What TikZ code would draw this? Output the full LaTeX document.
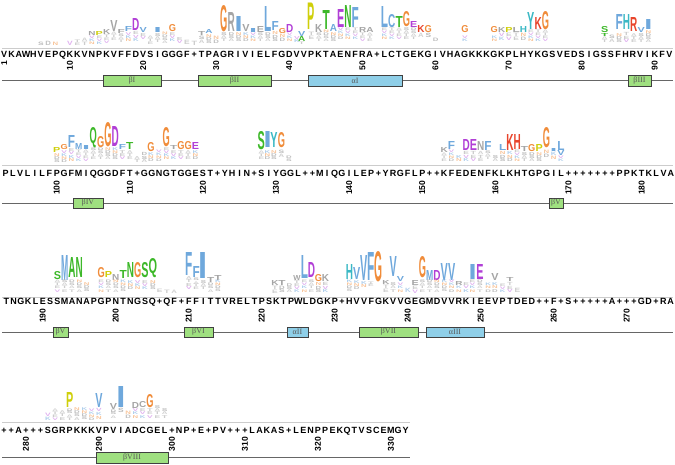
\documentclass[tikz,border=0pt]{standalone}
\usepackage{fontspec}
\usepackage{graphicx}
\setsansfont{Liberation Sans}
\newfontfamily\grk{Liberation Serif}
\definecolor{cB}{HTML}{6FA8DC}
\definecolor{cG}{HTML}{F08C3A}
\definecolor{cD}{HTML}{B13FD6}
\definecolor{cN}{HTML}{3DB829}
\definecolor{cP}{HTML}{CFCF0A}
\definecolor{cH}{HTML}{3BB8C4}
\definecolor{cK}{HTML}{E8452C}
\definecolor{cX}{HTML}{A5A5A5}
\definecolor{boxG}{HTML}{9FE080}
\definecolor{boxB}{HTML}{8FCFE8}
\newcounter{lgc}
\tikzset{
 lgl/.style={anchor=south,inner sep=0pt,outer sep=0pt,font=\sffamily\bfseries},
 seqc/.style={anchor=base,inner sep=0pt,font=\sffamily\bfseries\fontsize{9}{10}\selectfont},
 numl/.style={rotate=90,anchor=east,inner sep=0pt,font=\sffamily\bfseries\fontsize{8.5}{9}\selectfont},
 mainln/.style={draw=black!60,line width=0.9pt},
 baseln/.style={draw=black!20,line width=0.4pt},
 sbox/.style={draw=black!75,line width=0.8pt,fill=boxG,inner sep=0pt,font=\grk\fontsize{8}{8}\selectfont,text=black!65},
 hbox/.style={draw=black!75,line width=0.8pt,fill=boxB,inner sep=0pt,font=\grk\fontsize{8}{8}\selectfont,text=black!65}
}
\newcommand\lgx[6][7.2]{%
 \pgfmathsetmacro\myhh{#3-#4}%
 \stepcounter{lgc}%
 \node[lgl,text=#5] (g\thelgc) at (#2,#3) {\resizebox{#1pt}{\myhh pt}{#6}};}
\newcommand\clt[3]{%
 \pgfmathtruncatemacro\mycn{max(1,round((#3-#2)/3.4))}%
 \pgfmathsetmacro\mych{(#3-#2)/\mycn}%
 \foreach \k in {1,...,\mycn}{%
  \pgfmathsetmacro\myyb{#3-(\k-1)*\mych}%
  \pgfmathtruncatemacro\myli{mod(\k*3+round(#1*7),8)}%
  \pgfmathsetmacro\myhh{\mych*0.85}%
  \ifcase\myli\def\mycc{gray!40}\or\def\mycc{gray!55}\or\def\mycc{cB!55}\or\def\mycc{gray!40}\or\def\mycc{gray!50}\or\def\mycc{cD!40}\or\def\mycc{gray!35}\or\def\mycc{cG!50}\fi
  \stepcounter{lgc}%
  \node[lgl,text=\mycc] (g\thelgc) at (#1,\myyb) {\resizebox{5.6pt}{\myhh pt}{\ifcase\myli E\or S\or K\or T\or D\or V\or A\or N\fi}};%
 }}
\newcommand\sbx[7]{\node[#6,minimum width={(#3-#2)*1pt},minimum height={(#5-#4)*1pt}] (#1) at ({(#2+#3)/2},{(#4+#5)/2}) {#7};}
\begin{document}
\begin{tikzpicture}[x=1pt,y=-1pt]
\useasboundingbox (0,0) rectangle (675,465);
% ---------- baselines of logos
\coordinate (t1a) at (2,48.5); \coordinate (t1b) at (673,48.5);
\coordinate (t2a) at (2,165.5); \coordinate (t2b) at (673,165.5);
\coordinate (t3a) at (2,297.5); \coordinate (t3b) at (673,297.5);
\coordinate (t4a) at (2,422.5); \coordinate (t4b) at (410,422.5);
\foreach \r in {1,2,3,4}{\draw[baseln] (t\r a) -- (t\r b);}
% ---------- sequences
\foreach \c [count=\i from 0] in {V,K,A,W,H,V,E,P,Q,K,K,V,N,P,K,V,F,F,D,V,S,I,G,G,G,F,+,T,P,A,G,R,I,V,I,E,L,F,G,D,V,V,P,K,T,A,E,N,F,R,A,+,L,C,T,G,E,K,G,I,V,H,A,G,K,K,K,G,K,P,L,H,Y,K,G,S,V,E,D,S,I,G,S,S,F,H,R,V,I,K,F,V}
 {\node[seqc] (sa\i) at (4.2+\i*7.31,57.5) {\c};}
\foreach \c [count=\i from 0] in {P,L,V,L,I,L,F,P,G,F,M,I,Q,G,G,D,F,T,+,G,G,N,G,T,G,G,E,S,T,+,Y,H,I,N,+,S,I,Y,G,G,L,+,+,M,I,Q,G,I,L,E,P,+,Y,R,G,F,L,P,+,+,K,F,E,D,E,N,F,K,L,K,H,T,G,P,G,I,L,+,+,+,+,+,+,+,P,P,K,T,K,L,V,A}
 {\node[seqc] (sb\i) at (5.6+\i*7.31,176.8) {\c};}
\foreach \c [count=\i from 0] in {T,N,G,K,L,E,S,S,M,A,N,A,P,G,P,N,T,N,G,S,Q,+,Q,F,+,F,F,I,T,T,V,R,E,L,T,P,S,K,T,P,W,L,D,G,K,P,+,H,V,V,F,G,K,V,V,G,E,G,M,D,V,V,R,K,I,E,E,V,P,T,D,E,D,+,+,F,+,S,+,+,+,+,+,A,+,+,+,G,D,+,R,A}
 {\node[seqc] (sc\i) at (6.3+\i*7.3,305) {\c};}
\foreach \c [count=\i from 0] in {+,+,A,+,+,+,S,G,R,P,K,K,K,V,P,V,I,A,D,C,G,E,L,+,N,P,+,E,+,P,V,+,+,+,L,A,K,A,S,+,L,E,N,P,P,E,K,Q,T,V,S,C,E,M,G,Y}
 {\node[seqc] (sd\i) at (4+\i*7.3,433.3) {\c};}
% ---------- position numbers
\node[numl] (n1) at (4.2,61) {1};
\foreach \n in {10,20,...,90}{\node[numl] (n\n) at ({4.2+(\n-1)*7.31},61) {\n};}
\foreach \n in {100,110,...,180}{\node[numl] (n\n) at ({5.6+(\n-93)*7.31},180.5) {\n};}
\foreach \n in {190,200,...,270}{\node[numl] (n\n) at ({6.3+(\n-185)*7.3},308.5) {\n};}
\foreach \n in {280,290,...,330}{\node[numl] (n\n) at ({4+(\n-277)*7.3},436.8) {\n};}
% ---------- secondary structure lines
\coordinate (l1a) at (2,80.5); \coordinate (l1b) at (673,80.5);
\coordinate (l2a) at (2,203); \coordinate (l2b) at (673,203);
\coordinate (l3a) at (2,332); \coordinate (l3b) at (673,332);
\coordinate (l4a) at (2,457.5); \coordinate (l4b) at (410,457.5);
\foreach \r in {1,2,3,4}{\draw[mainln] (l\r a) -- (l\r b);}
\sbx{b1}{103}{161}{75}{86}{sbox}{βI}
\sbx{b2}{198}{271}{75}{86}{sbox}{βII}
\sbx{a1}{308}{402}{75}{86}{hbox}{αI}
\sbx{b3}{628}{651}{75}{86}{sbox}{βIII}
\sbx{b4}{73}{103}{198}{208}{sbox}{βIV}
\sbx{b5}{549}{563}{198}{208}{sbox}{βV}
\sbx{b5b}{53}{68}{327}{337}{sbox}{βV}
\sbx{b6}{184}{213}{327}{337}{sbox}{βVI}
\sbx{a2}{287}{308}{327}{337}{hbox}{αII}
\sbx{b7}{359}{418}{327}{337}{sbox}{βVII}
\sbx{a3}{426}{484}{327}{337}{hbox}{αIII}
\sbx{b8}{96}{168}{452}{463}{sbox}{βVIII}
% ---------- logo row 1
\lgx{92.0}{36}{32}{cX}{N}
\lgx{99.3}{36}{32}{cP}{P}
\lgx{106.6}{35}{30}{cX}{K}
\lgx{113.9}{32}{21}{cX}{V}
\lgx{121.2}{34}{30}{cX}{F}
\lgx{128.5}{32}{27}{cB}{F}
\lgx{135.8}{31}{19}{cD}{D}
\lgx{143.1}{33}{28}{cB}{V}
\lgx[8]{157.7}{33}{28}{cB}{I}
\lgx{172.4}{32}{25}{cG}{G}
\lgx{201.6}{36}{32}{cX}{T}
\lgx{208.9}{34}{30}{cB}{A}
\lgx{224.0}{32}{6}{cG}{G}
\lgx{231.3}{32}{13}{cX}{R}
\lgx[8]{238.6}{32}{17}{cB}{I}
\lgx{245.9}{32}{25}{cX}{V}
\lgx[8]{253.2}{33}{29}{cB}{I}
\lgx{260.5}{33}{27}{cX}{E}
\lgx{267.8}{32}{7}{cB}{L}
\lgx{275.1}{31}{22}{cB}{F}
\lgx{282.4}{34}{29}{cG}{G}
\lgx{289.7}{33}{25}{cD}{D}
\lgx{301.7}{37}{32}{cB}{V}
\lgx{301.7}{42}{37}{cN}{A}
\lgx{311.5}{30}{3.5}{cP}{P}
\lgx{318.8}{33}{25}{cX}{K}
\lgx{326.1}{30}{11}{cN}{T}
\lgx{333.4}{32}{25}{cB}{A}
\lgx{340.7}{28}{10}{cD}{E}
\lgx{348.0}{28}{6}{cN}{N}
\lgx{355.3}{28}{8}{cB}{F}
\lgx{362.6}{33}{28}{cX}{R}
\lgx{369.9}{33}{28}{cX}{A}
\lgx{384.5}{28}{7}{cB}{L}
\lgx{391.8}{28}{15}{cB}{C}
\lgx{399.1}{28}{17}{cN}{T}
\lgx{406.4}{27}{12}{cG}{G}
\lgx{413.7}{28}{22}{cD}{E}
\lgx{421.0}{33}{26}{cK}{K}
\lgx{428.3}{33}{26}{cG}{G}
\lgx{465.0}{33}{26}{cG}{G}
\lgx{494.3}{33}{27}{cG}{G}
\lgx{501.6}{33}{28}{cX}{K}
\lgx{508.9}{33}{28}{cP}{P}
\lgx{516.2}{33}{28}{cX}{L}
\lgx{523.5}{33}{27}{cH}{H}
\lgx{530.8}{30}{13}{cH}{Y}
\lgx{538.1}{30}{18}{cK}{K}
\lgx{545.4}{30}{12}{cG}{G}
\lgx{604.6}{33}{27}{cN}{S}
\lgx{604.6}{36.5}{33.5}{cN}{T}
\lgx{619.2}{30}{15}{cB}{F}
\lgx{626.5}{30}{15}{cH}{H}
\lgx{633.8}{32}{18}{cK}{R}
\lgx{641.1}{33}{28}{cB}{V}
\lgx[8]{648.4}{30}{20}{cB}{I}
\clt{40.8}{42}{46}
\clt{48.1}{41}{46}
\clt{55.4}{42}{46}
\clt{70.0}{41}{46}
\clt{77.3}{40}{46}
\clt{84.6}{38}{46}
\clt{92.0}{36}{45}
\clt{99.3}{36}{45}
\clt{106.6}{35}{44}
\clt{113.9}{32}{41}
\clt{121.2}{34}{43}
\clt{128.5}{32}{42}
\clt{135.8}{31}{42}
\clt{143.1}{33}{40}
\clt{150.4}{36}{45}
\clt{157.7}{33}{43}
\clt{165.0}{32}{44}
\clt{172.4}{32}{42}
\clt{179.7}{37}{44}
\clt{187.0}{40}{45}
\clt{194.3}{41}{46}
\clt{201.6}{36}{44}
\clt{208.9}{34}{44}
\clt{216.2}{36}{44}
\clt{224.0}{32}{42}
\clt{231.3}{32}{42}
\clt{238.6}{32}{42}
\clt{245.9}{32}{42}
\clt{253.2}{33}{42}
\clt{260.5}{33}{42}
\clt{267.8}{32}{42}
\clt{275.1}{31}{42}
\clt{282.4}{34}{42}
\clt{289.7}{33}{42}
\clt{297.0}{36}{43}
\clt{301.7}{42}{45}
\clt{311.5}{32}{40}
\clt{318.8}{33}{42}
\clt{326.1}{30}{42}
\clt{333.4}{32}{42}
\clt{340.7}{28}{40}
\clt{348.0}{28}{40}
\clt{355.3}{28}{40}
\clt{362.6}{33}{42}
\clt{369.9}{33}{42}
\clt{384.5}{28}{40}
\clt{391.8}{28}{40}
\clt{399.1}{28}{40}
\clt{406.4}{27}{40}
\clt{413.7}{28}{40}
\clt{421.0}{33}{38}
\clt{428.3}{33}{38}
\clt{435.6}{38}{42}
\clt{465.0}{36}{42}
\clt{494.3}{36}{42}
\clt{501.6}{33}{41}
\clt{508.9}{33}{41}
\clt{516.2}{33}{41}
\clt{523.5}{33}{41}
\clt{530.8}{30}{42}
\clt{538.1}{30}{42}
\clt{545.4}{30}{42}
\clt{604.6}{36.5}{43}
\clt{611.9}{35}{43}
\clt{619.2}{33}{43}
\clt{626.5}{32}{43}
\clt{633.8}{33}{43}
\clt{641.1}{33}{43}
\clt{648.4}{30}{43}
% ---------- logo row 2
\lgx{56.8}{153}{148}{cP}{P}
\lgx{64.1}{150}{145}{cG}{G}
\lgx{71.4}{148}{136}{cB}{F}
\lgx{78.7}{150}{144}{cB}{M}
\lgx[8]{86.0}{150}{146}{cB}{I}
\lgx{93.3}{148}{132}{cN}{Q}
\lgx{100.6}{148}{137}{cG}{G}
\lgx{107.9}{147}{123}{cG}{G}
\lgx{115.2}{147}{127}{cD}{D}
\lgx{122.5}{150}{145}{cB}{F}
\lgx{129.8}{150}{143}{cN}{T}
\lgx{151.0}{152}{143}{cG}{G}
\lgx{166.3}{147}{128}{cG}{G}
\lgx{173.6}{150}{146}{cX}{T}
\lgx{180.9}{150}{142}{cG}{G}
\lgx{188.2}{150}{142}{cG}{G}
\lgx{195.5}{150}{143}{cD}{E}
\lgx{261.3}{150}{132}{cN}{S}
\lgx[8]{267.5}{148}{132}{cB}{I}
\lgx{274.0}{148}{133}{cH}{Y}
\lgx{281.5}{148}{133}{cG}{G}
\lgx{444.2}{153}{148}{cX}{K}
\lgx{451.5}{150}{142}{cB}{F}
\lgx{466.1}{151}{140}{cD}{D}
\lgx{473.4}{151}{140}{cD}{E}
\lgx{480.7}{151}{142}{cX}{N}
\lgx{488.0}{151}{142}{cB}{F}
\lgx{502.6}{151}{145}{cB}{L}
\lgx{509.9}{151}{135}{cK}{K}
\lgx{517.2}{150}{135}{cK}{H}
\lgx{524.5}{152}{147}{cX}{T}
\lgx{531.8}{152}{145}{cG}{G}
\lgx{539.1}{152}{145}{cP}{P}
\lgx{546.4}{148}{128}{cG}{G}
\lgx[7]{553.7}{152}{149}{cB}{I}
\lgx{561.0}{151}{142}{cB}{L}
\lgx{561.0}{156}{151}{cB}{V}
\clt{56.8}{153}{163}
\clt{64.1}{150}{163}
\clt{71.4}{148}{162}
\clt{78.7}{150}{162}
\clt{86.0}{150}{162}
\clt{93.3}{148}{160}
\clt{100.6}{148}{160}
\clt{107.9}{147}{160}
\clt{115.2}{147}{160}
\clt{122.5}{150}{160}
\clt{129.8}{150}{160}
\clt{137.1}{156}{163}
\clt{144.4}{152}{163}
\clt{151.0}{152}{162}
\clt{159.0}{150}{162}
\clt{166.3}{147}{160}
\clt{173.6}{150}{160}
\clt{180.9}{150}{160}
\clt{188.2}{150}{160}
\clt{195.5}{150}{160}
\clt{261.3}{151}{160}
\clt{267.5}{150}{160}
\clt{274.0}{150}{160}
\clt{281.5}{150}{158}
\clt{288.8}{156}{162}
\clt{444.2}{153}{162}
\clt{451.5}{150}{162}
\clt{458.8}{155}{162}
\clt{466.1}{151}{162}
\clt{473.4}{151}{162}
\clt{480.7}{151}{162}
\clt{488.0}{151}{160}
\clt{495.3}{155}{162}
\clt{502.6}{151}{162}
\clt{509.9}{151}{162}
\clt{517.2}{150}{162}
\clt{524.5}{152}{162}
\clt{531.8}{152}{162}
\clt{539.1}{152}{162}
\clt{546.4}{150}{158}
\clt{553.7}{152}{160}
\clt{561.0}{156}{162}
% ---------- logo row 3
\lgx{57.4}{280}{272}{cN}{S}
\lgx{64.7}{280}{255}{cB}{M}
\lgx{72.0}{278}{258}{cN}{A}
\lgx{79.3}{278}{258}{cN}{N}
\lgx{101.2}{278}{268}{cG}{G}
\lgx{108.5}{278}{272}{cP}{P}
\lgx{115.8}{280}{274}{cX}{N}
\lgx{123.1}{278}{270}{cN}{T}
\lgx{130.4}{278}{263}{cN}{N}
\lgx{137.7}{278}{263}{cG}{G}
\lgx{145.0}{278}{263}{cN}{S}
\lgx[8.5]{152.8}{278}{263}{cN}{Q}
\lgx{188.8}{275}{252}{cB}{F}
\lgx{196.1}{278}{267}{cB}{F}
\lgx[9]{203.4}{278}{252}{cB}{I}
\lgx{210.7}{283}{278}{cX}{T}
\lgx{218.0}{280}{275}{cX}{T}
\lgx{275.0}{285}{280}{cX}{K}
\lgx{282.0}{285}{280}{cX}{T}
\lgx{297.0}{280}{275}{cX}{W}
\lgx{304.5}{278}{255}{cB}{L}
\lgx{311.5}{278}{263}{cD}{D}
\lgx{318.5}{282}{275}{cG}{G}
\lgx{325.5}{282}{275}{cX}{K}
\lgx{349.4}{280}{265}{cH}{H}
\lgx{356.7}{280}{268}{cB}{V}
\lgx{364.0}{280}{255}{cB}{V}
\lgx{371.0}{280}{252}{cB}{F}
\lgx[8]{378.6}{282}{252}{cG}{G}
\lgx{385.9}{284}{280}{cX}{K}
\lgx{393.2}{277}{257}{cB}{V}
\lgx{400.5}{282}{277}{cB}{V}
\lgx{415.1}{285}{280}{cX}{E}
\lgx{422.4}{278}{257}{cG}{G}
\lgx{429.7}{280}{270}{cB}{M}
\lgx{437.0}{280}{270}{cD}{D}
\lgx{444.3}{280}{263}{cB}{V}
\lgx{451.6}{280}{263}{cB}{V}
\lgx{458.9}{286}{282}{cX}{R}
\lgx[8]{472.5}{280}{265}{cB}{I}
\lgx{480.0}{280}{265}{cD}{E}
\lgx{495.0}{280}{273}{cX}{V}
\lgx{510.0}{282}{278}{cX}{T}
\clt{57.4}{280}{292}
\clt{64.7}{280}{292}
\clt{72.0}{280}{292}
\clt{79.3}{280}{292}
\clt{86.6}{282}{292}
\clt{101.2}{280}{292}
\clt{108.5}{280}{292}
\clt{115.8}{280}{292}
\clt{123.1}{280}{292}
\clt{130.4}{280}{290}
\clt{137.7}{280}{290}
\clt{145.0}{280}{290}
\clt{152.8}{280}{290}
\clt{159.6}{288}{292}
\clt{166.9}{289}{293}
\clt{174.2}{289}{293}
\clt{188.8}{276}{290}
\clt{196.1}{278}{290}
\clt{203.4}{280}{290}
\clt{210.7}{283}{292}
\clt{218.0}{280}{292}
\clt{275.0}{285}{293}
\clt{282.0}{285}{293}
\clt{289.5}{283}{293}
\clt{297.0}{280}{293}
\clt{304.5}{280}{292}
\clt{311.5}{280}{292}
\clt{318.5}{282}{293}
\clt{325.5}{282}{293}
\clt{349.4}{280}{292}
\clt{356.7}{280}{290}
\clt{364.0}{281}{288}
\clt{371.0}{281}{287}
\clt{385.9}{284}{292}
\clt{393.2}{282}{292}
\clt{400.5}{283}{292}
\clt{407.8}{288}{293}
\clt{415.1}{285}{293}
\clt{422.4}{280}{292}
\clt{429.7}{280}{292}
\clt{437.0}{280}{292}
\clt{444.3}{280}{292}
\clt{451.6}{280}{292}
\clt{458.9}{286}{292}
\clt{466.2}{282}{292}
\clt{472.5}{280}{292}
\clt{480.0}{280}{292}
\clt{488.1}{283}{292}
\clt{495.0}{282}{292}
\clt{502.7}{284}{293}
\clt{510.0}{282}{293}
\clt{517.3}{288}{293}
% ---------- logo row 4
\lgx{69.7}{407}{392}{cP}{P}
\lgx{98.9}{407}{393}{cB}{V}
\lgx{113.5}{409}{403}{cX}{V}
\lgx[9]{120.8}{407}{386}{cB}{I}
\lgx{135.4}{408}{402}{cX}{D}
\lgx{142.7}{408}{402}{cX}{C}
\lgx{150.0}{408}{395}{cG}{G}
\clt{47.8}{412}{420}
\clt{55.1}{408}{420}
\clt{62.4}{410}{420}
\clt{69.7}{408}{420}
\clt{77.0}{407}{420}
\clt{84.3}{407}{420}
\clt{91.6}{408}{420}
\clt{98.9}{408}{419}
\clt{113.5}{409}{418}
\clt{120.8}{408}{413}
\clt{128.1}{410}{418}
\clt{135.4}{408}{418}
\clt{142.7}{408}{418}
\clt{150.0}{408}{418}
\clt{157.3}{405}{418}
\clt{164.6}{408}{418}
\end{tikzpicture}
\end{document}
